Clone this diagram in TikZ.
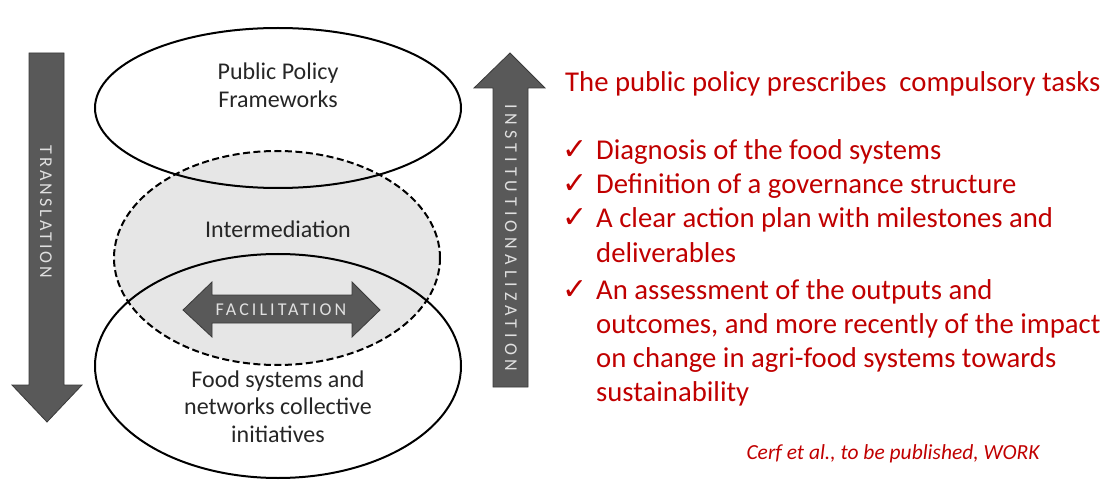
\documentclass[tikz,border=0pt]{standalone}
\usepackage{fontspec}
\setmainfont{Carlito}
\newfontfamily\spacedfont[LetterSpace=17]{Carlito}
\newfontfamily\widefont[LetterSpace=28]{Carlito}
\newfontfamily\symfont{DejaVu Sans}
\definecolor{arrowgray}{HTML}{595959}
\definecolor{arrowedge}{HTML}{3A3A3A}
\definecolor{midgray}{HTML}{E6E6E6}
\definecolor{textgray}{HTML}{262626}
\definecolor{policyred}{HTML}{C00000}
\begin{document}
\begin{tikzpicture}[x=1pt,y=-1pt,
  bigarrow/.style={fill=arrowgray,draw=arrowedge,line width=0.8pt},
  arrowtext/.style={text=white!88!black,font=\spacedfont\fontsize{18}{20}\selectfont,inner sep=0pt},
  ovaltext/.style={text=textgray,font=\fontsize{24}{28}\selectfont,inner sep=0pt,anchor=base},
  redline/.style={text=policyred,font=\fontsize{28.7}{34}\selectfont,inner sep=0pt,anchor=base west},
  tick/.style={text=policyred,font=\symfont\fontsize{30}{32}\selectfont,inner sep=0pt,anchor=base west}]
\useasboundingbox (0,0) rectangle (1106,481);
% ellipses
\draw[fill=midgray,dash pattern=on 7pt off 3.5pt,line width=2pt] (277,258) ellipse [x radius=163,y radius=107];
\draw[line width=2pt] (278,108) ellipse [x radius=183,y radius=80];
\draw[line width=2pt] (278,366) ellipse [x radius=183,y radius=112];
\node[ovaltext] (ppf1) at (278,80) {Public Policy};
\node[ovaltext] (ppf2) at (278,108) {Frameworks};
\node[ovaltext] (inter) at (278,237) {Intermediation};
\node[ovaltext] (food1) at (278,387) {Food systems and};
\node[ovaltext] (food2) at (278,414) {networks collective};
\node[ovaltext] (food3) at (278,442) {initiatives};
% facilitation arrow
\draw[bigarrow] (183,310) -- (212,282) -- (212,295) -- (352,295) -- (352,282) -- (380,310) -- (352,337) -- (352,323) -- (212,323) -- (212,337) -- cycle;
\node[arrowtext] (facil) at (281,310) {FACILITATION};
% translation arrow
\draw[bigarrow] (29,53) -- (64,53) -- (64,385) -- (82,385) -- (47,422) -- (12,385) -- (29,385) -- cycle;
\node[arrowtext,rotate=-90] (transl) at (46,212) {TRANSLATION};
% institutionalization arrow
\draw[bigarrow] (493,387) -- (493,88) -- (474,88) -- (510,53) -- (545,88) -- (528,88) -- (528,387) -- cycle;
\node[arrowtext,font=\widefont\fontsize{18}{20}\selectfont,rotate=-90] (inst) at (511,238) {INSTITUTIONALIZATION};
% right text
\node[redline] (title) at (565,92) {The public policy prescribes\ \ compulsory tasks};
\node[tick] (t1) at (562,160) {✓};
\node[redline] (b1) at (596,160) {Diagnosis of the food systems};
\node[tick] (t2) at (562,194) {✓};
\node[redline] (b2) at (596,194) {Definition of a governance structure};
\node[tick] (t3) at (562,228) {✓};
\node[redline] (b3a) at (596,228) {A clear action plan with milestones and};
\node[redline] (b3b) at (596,262) {deliverables};
\node[tick] (t4) at (562,299) {✓};
\node[redline] (b4a) at (596,299) {An assessment of the outputs and};
\node[redline] (b4b) at (596,333) {outcomes, and more recently of the impact};
\node[redline] (b4c) at (596,367) {on change in agri-food systems towards};
\node[redline] (b4d) at (596,401) {sustainability};
\node[text=policyred,font=\itshape\fontsize{21.5}{24}\selectfont,inner sep=0pt,anchor=base] (cite) at (893,459) {Cerf et al., to be published, WORK};
\end{tikzpicture}
\end{document}
